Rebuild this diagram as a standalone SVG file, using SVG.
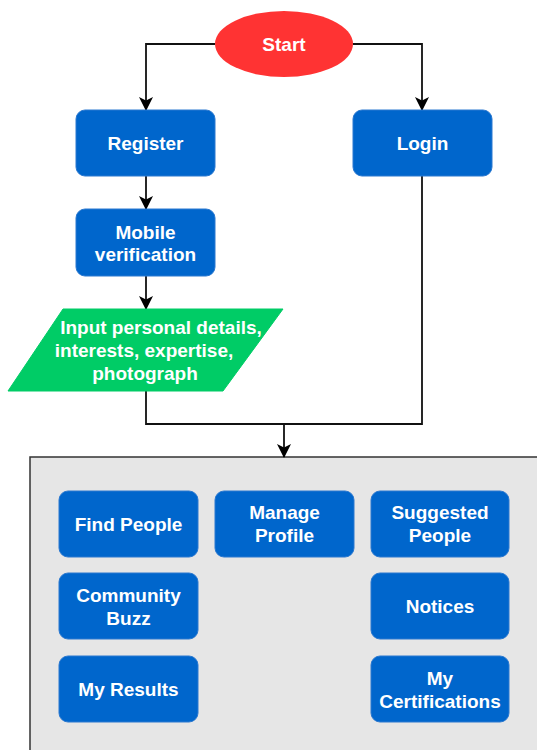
<svg xmlns="http://www.w3.org/2000/svg" width="537" height="750" viewBox="0 0 537 750">
<style>
.box{fill:#0066CC;stroke:#2a78d0;stroke-width:1}
.t{font-family:"Liberation Sans",Arial,sans-serif;font-size:19px;font-weight:bold;fill:#ffffff;text-anchor:middle;dominant-baseline:central}
.c{fill:none;stroke:#111111;stroke-width:1.8}
</style>
<defs>
<marker id="arr" viewBox="0 0 14 14" refX="13" refY="7" markerWidth="14" markerHeight="14" markerUnits="userSpaceOnUse" orient="auto">
<path d="M0,0 L14,7 L0,14 L3.5,7 Z" fill="#000000"/>
</marker>
</defs>
<rect width="537" height="750" fill="#ffffff"/>
<g id="container">
<rect x="30" y="457" width="520" height="310" fill="#E6E6E6" stroke="#333333" stroke-width="1.5"/>
</g>
<g id="connectors">
<path class="c" d="M215,44 H146 V110" marker-end="url(#arr)"/>
<path class="c" d="M353,44 H422 V110" marker-end="url(#arr)"/>
<path class="c" d="M146,176 V209" marker-end="url(#arr)"/>
<path class="c" d="M146,276 V309" marker-end="url(#arr)"/>
<path class="c" d="M146,391 V424 H422 V176"/>
<path class="c" d="M284,424 V457" marker-end="url(#arr)"/>
</g>
<g id="start">
<ellipse cx="284" cy="44" rx="69" ry="33" fill="#FF3333"/>
<text class="t" x="284" y="44">Start</text>
</g>
<g id="register">
<rect class="box" x="76" y="110" width="139" height="66" rx="9"/>
<text class="t" x="145.5" y="143">Register</text>
</g>
<g id="login">
<rect class="box" x="353" y="110" width="139" height="66" rx="9"/>
<text class="t" x="422.5" y="143">Login</text>
</g>
<g id="mobile">
<rect class="box" x="76" y="209" width="139" height="67" rx="9"/>
<text class="t" x="145.5" y="232">Mobile</text>
<text class="t" x="145.5" y="254">verification</text>
</g>
<g id="input">
<path d="M63,309 H283 L223,391 H8 Z" fill="#00CC66" stroke="#00CC66" stroke-width="1" stroke-linejoin="round"/>
<text class="t" x="161" y="327">Input personal details,</text>
<text class="t" x="144" y="350">interests, expertise,</text>
<text class="t" x="145" y="373">photograph</text>
</g>
<g id="findPeople">
<rect class="box" x="59" y="491" width="139" height="66" rx="9"/>
<text class="t" x="128.5" y="524">Find People</text>
</g>
<g id="manageProfile">
<rect class="box" x="215" y="491" width="139" height="66" rx="9"/>
<text class="t" x="284.5" y="512.5">Manage</text>
<text class="t" x="284.5" y="535.5">Profile</text>
</g>
<g id="suggestedPeople">
<rect class="box" x="371" y="491" width="138" height="66" rx="9"/>
<text class="t" x="440" y="512.5">Suggested</text>
<text class="t" x="440" y="535.5">People</text>
</g>
<g id="communityBuzz">
<rect class="box" x="59" y="573" width="139" height="66" rx="9"/>
<text class="t" x="128.5" y="595">Community</text>
<text class="t" x="128.5" y="618">Buzz</text>
</g>
<g id="notices">
<rect class="box" x="371" y="573" width="138" height="66" rx="9"/>
<text class="t" x="440" y="606">Notices</text>
</g>
<g id="myResults">
<rect class="box" x="59" y="656" width="139" height="66" rx="9"/>
<text class="t" x="128.5" y="689">My Results</text>
</g>
<g id="myCertifications">
<rect class="box" x="371" y="656" width="138" height="66" rx="9"/>
<text class="t" x="440" y="678">My</text>
<text class="t" x="440" y="701">Certifications</text>
</g>
</svg>
